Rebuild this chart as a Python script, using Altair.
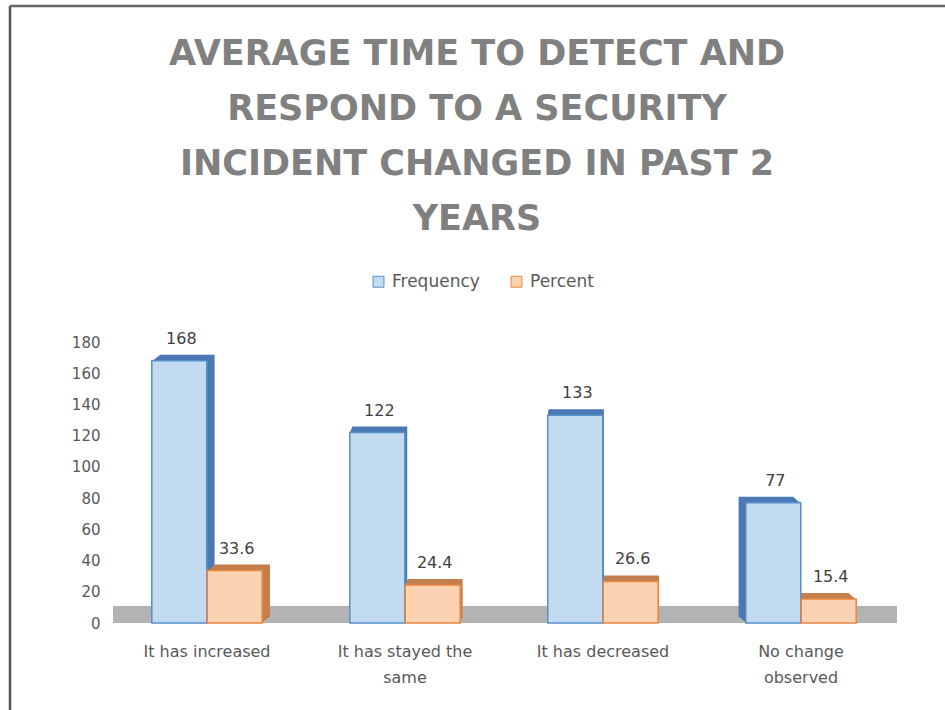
import altair as alt
import pandas as pd

categories = ["It has increased", "It has stayed the same", "It has decreased", "No change observed"]
series = ["Frequency", "Percent"]
frequency = [168, 122, 133, 77]
percent = [33.6, 24.4, 26.6, 15.4]
y_ticks = [0, 20, 40, 60, 80, 100, 120, 140, 160, 180]
title_lines = ["AVERAGE TIME TO DETECT AND", "RESPOND TO A SECURITY",
               "INCIDENT CHANGED IN PAST 2", "YEARS"]

rows = []
for c, f, p in zip(categories, frequency, percent):
    rows.append({"category": c, "series": series[0], "value": f, "label": f"{f:g}"})
    rows.append({"category": c, "series": series[1], "value": p, "label": f"{p:.1f}"})
df = pd.DataFrame(rows)

W, H = 792, 281
FONT = "DejaVu Sans"
front_fill = ["#c3dbf1", "#fbd3b2"]
front_stroke = ["#5a8fca", "#e8873f"]
depth_fill = {series[0]: "#4a79b3", series[1]: "#c47f4e"}
series_shift = {series[0]: -27.7, series[1]: 27.7}
depth_dx = {categories[0]: 1.3, categories[1]: 0.4, categories[2]: 0.15, categories[3]: -1.2}
steps = 6
BAR_W = 55

label_expr = ("datum.label == 'It has stayed the same' ? ['It has stayed the', 'same'] : "
              "datum.label == 'No change observed' ? ['No change', 'observed'] : datum.label")

x_enc = alt.X("category:N", sort=categories,
              scale=alt.Scale(paddingInner=0.0, paddingOuter=0.0),
              axis=alt.Axis(title=None, domain=False, ticks=False, labelAngle=0,
                            labelFontSize=16, labelColor="#595959", labelFont=FONT,
                            labelPadding=20, labelLineHeight=26, labelExpr=label_expr))
y_enc = alt.Y("value:Q", scale=alt.Scale(domain=[0, 180], nice=False, zero=True),
              axis=alt.Axis(title=None, values=y_ticks, domain=False, ticks=False, grid=False,
                            labelFontSize=15, labelColor="#595959", labelFont=FONT,
                            labelPadding=8))

one = alt.Data(values=[{}])
frame_left = alt.Chart(one).mark_rule(color="#555555", strokeWidth=2.5).encode(
    x=alt.value(-98), y=alt.value(-336), y2=alt.value(372))
frame_top = alt.Chart(one).mark_rule(color="#666666", strokeWidth=2.5).encode(
    x=alt.value(-98), x2=alt.value(W + 60), y=alt.value(-336))
floor = alt.Chart(one).mark_rect(color="#b3b3b3").encode(
    x=alt.value(5), x2=alt.value(789), y=alt.value(H - 17), y2=alt.value(H))

layers = [frame_left, frame_top, floor]
for cat in categories:
    for s in series:
        for k in range(steps, 0, -1):
            layers.append(
                alt.Chart(df)
                .transform_filter((alt.datum.category == cat) & (alt.datum.series == s))
                .mark_bar(width=BAR_W, color=depth_fill[s],
                          xOffset=series_shift[s] + depth_dx[cat] * k,
                          yOffset=-k, y2Offset=-k)
                .encode(x=x_enc, y=y_enc)
            )

fill_enc = alt.Fill("series:N", sort=series,
                    scale=alt.Scale(domain=series, range=front_fill),
                    legend=alt.Legend(orient="none", legendX=262, legendY=-69,
                                      direction="horizontal", title=None,
                                      symbolType="square", symbolSize=120,
                                      symbolStrokeColor="#6a8fb8", symbolStrokeWidth=1,
                                      labelFontSize=17, labelColor="#595959", labelFont=FONT,
                                      columnPadding=28, labelOffset=5))
stroke_enc = alt.Stroke("series:N", sort=series,
                        scale=alt.Scale(domain=series, range=front_stroke), legend=None)

for s in series:
    layers.append(
        alt.Chart(df).transform_filter(alt.datum.series == s)
        .mark_bar(width=BAR_W, strokeWidth=1.5, xOffset=series_shift[s])
        .encode(x=x_enc, y=y_enc, fill=fill_enc, stroke=stroke_enc)
    )
for s in series:
    layers.append(
        alt.Chart(df).transform_filter(alt.datum.series == s)
        .mark_text(dy=-22, dx=series_shift[s] + 2, fontSize=16, color="#404040", font=FONT)
        .encode(x=x_enc, y=y_enc, text="label:N")
    )

chart = alt.layer(*layers).properties(
    width=W, height=H,
    background="white",
    autosize=alt.AutoSizeParams(type="none"),
    padding={"left": 108, "top": 342, "right": 45, "bottom": 87},
    title=alt.TitleParams(text=title_lines, font="DejaVu Sans", fontWeight="bold",
                          fontSize=35, color="#808080", lineHeight=55,
                          anchor="middle", frame="group", dx=-27, offset=-232),
).configure_view(strokeWidth=0, stroke="transparent")

chart.save("out.html", embed_options={"renderer": "svg", "actions": False})
